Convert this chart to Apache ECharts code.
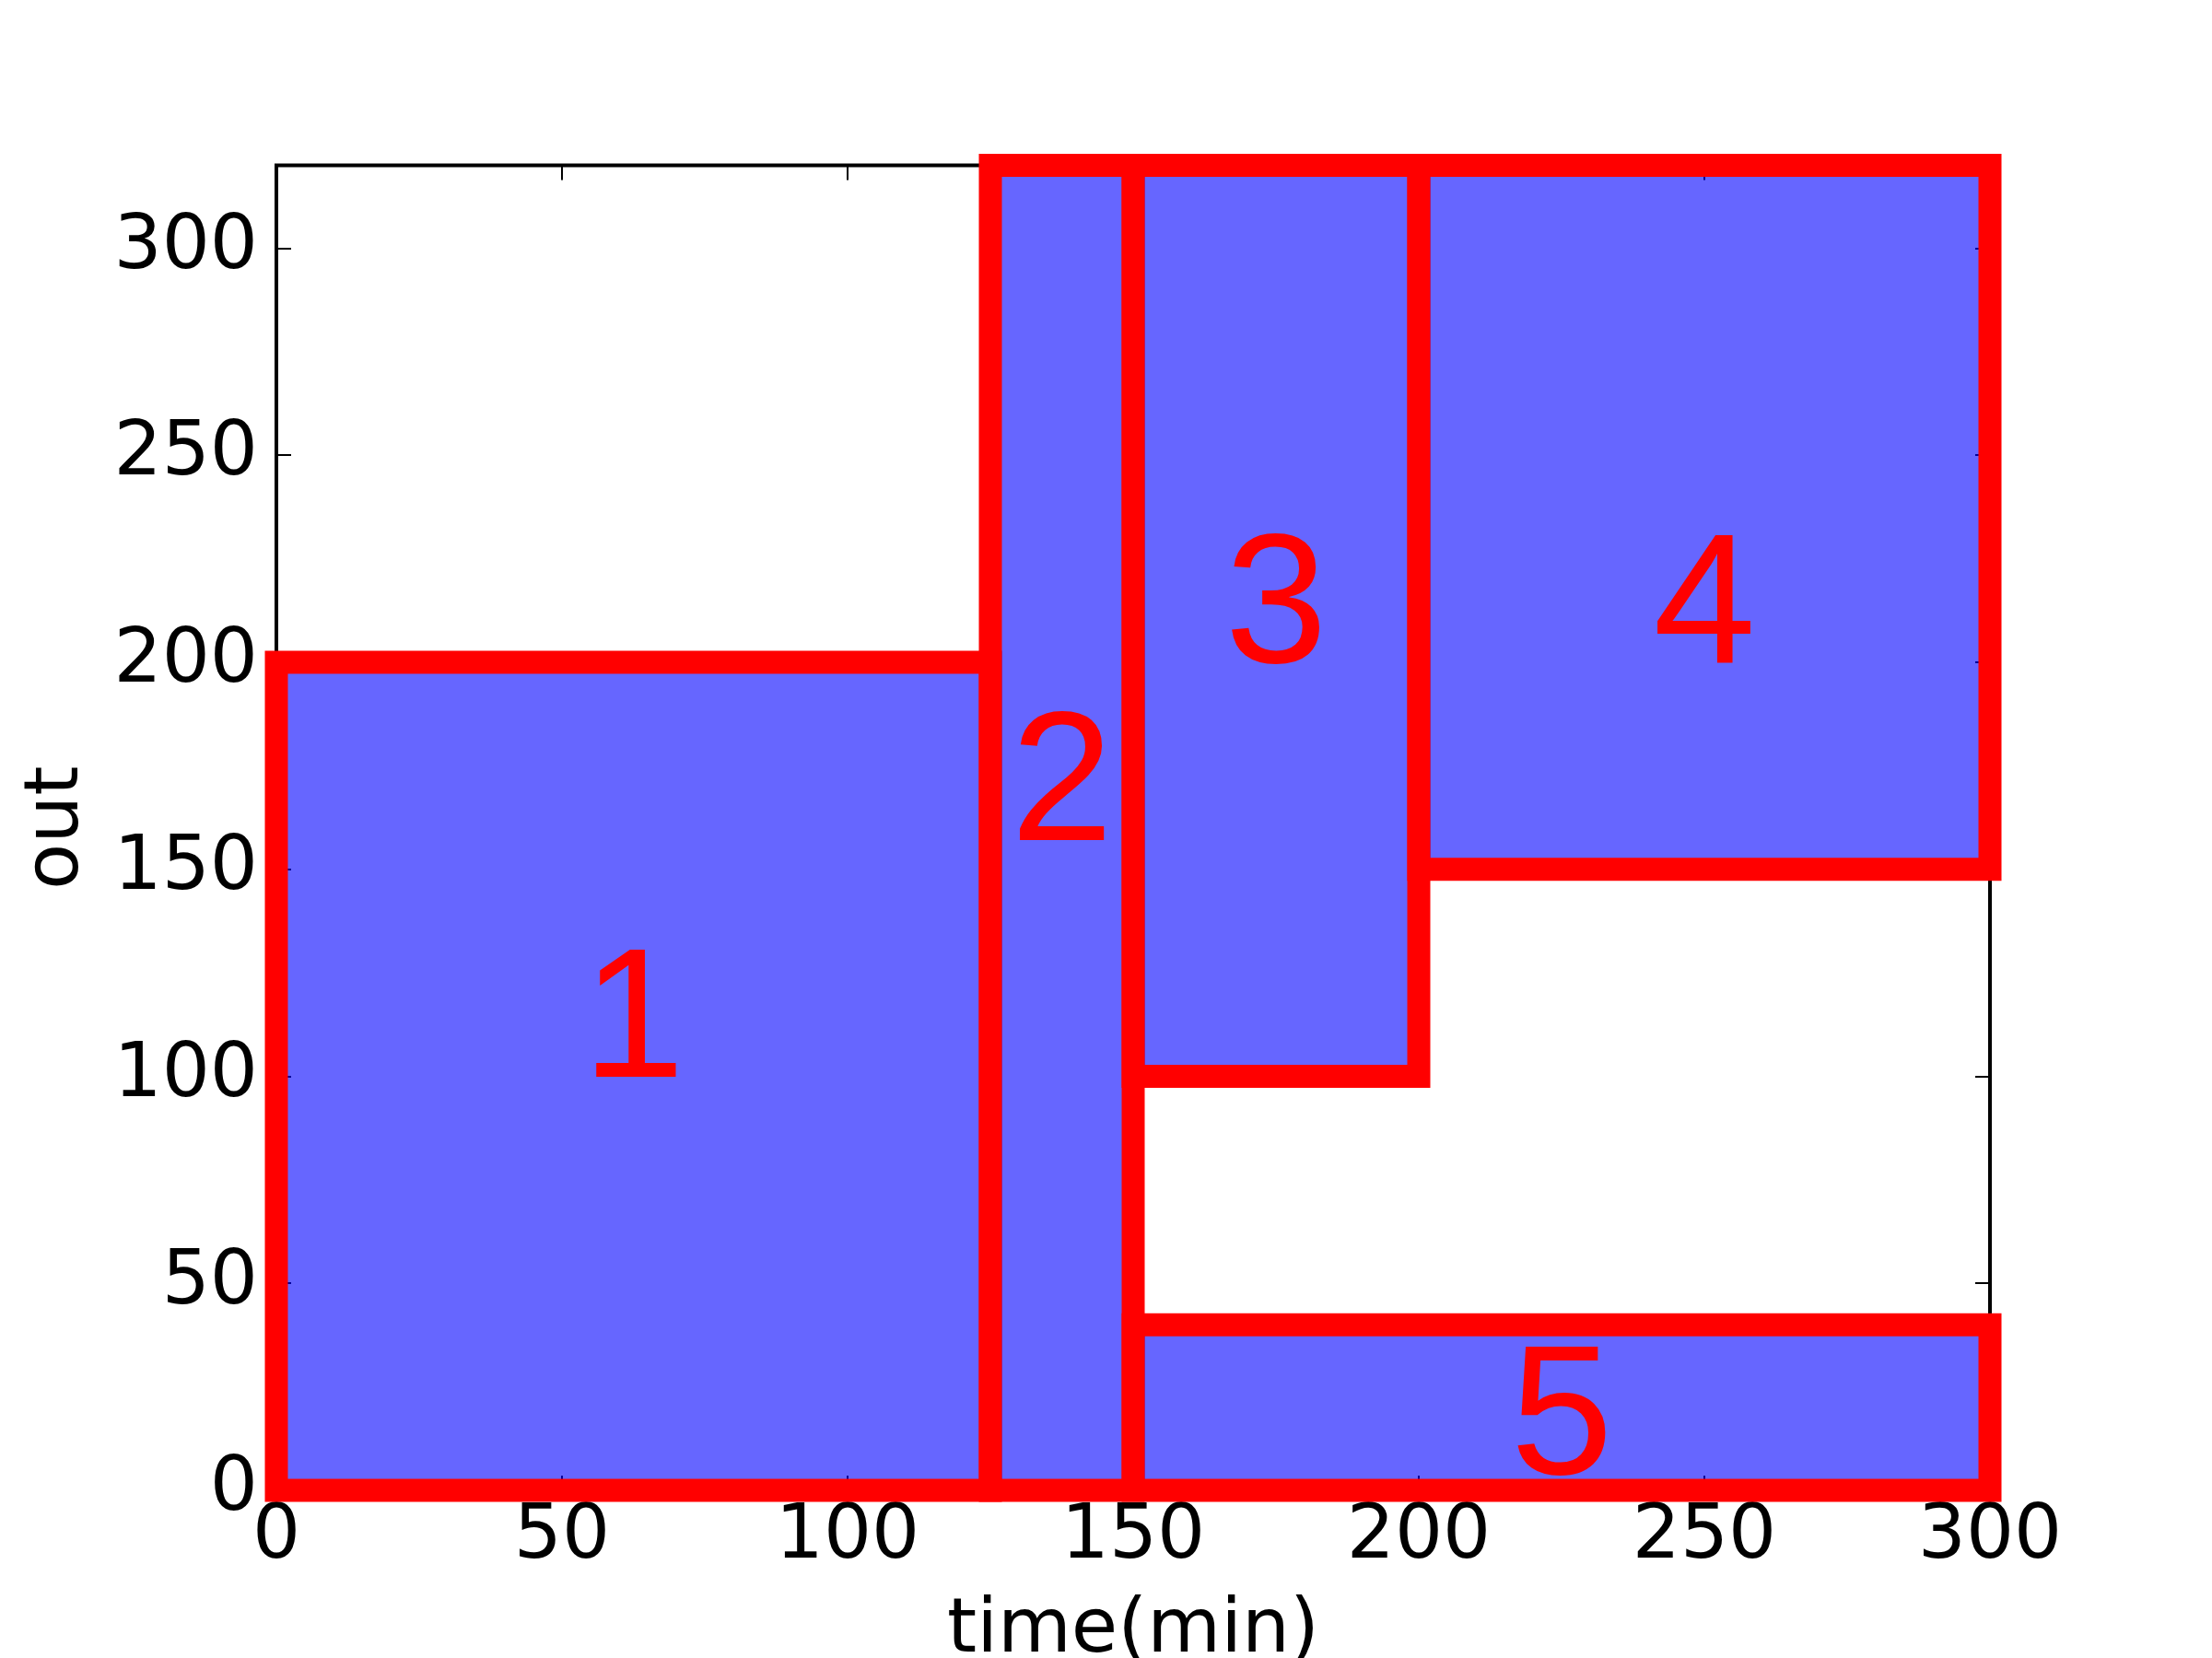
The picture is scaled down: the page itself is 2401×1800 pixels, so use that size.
<!DOCTYPE html>
<html>
<head>
<meta charset="utf-8">
<script src="https://cdn.jsdelivr.net/npm/echarts@6/dist/echarts.min.js"></script>
<style>
  html, body { margin: 0; padding: 0; background: #fff; }
  #chart { width: 2401px; height: 1800px; }
</style>
</head>
<body>
<div id="chart"></div>
<script>
// rectangles: [x0, x1] in minutes, [y0, y1] in "out"
const rectX0 = [0, 125, 150, 200, 150]
const rectX1 = [125, 150, 200, 300, 300]
const rectY0 = [0, 0, 100, 150, 0]
const rectY1 = [200, 320, 320, 320, 40]
const labelText = ['1', '2', '3', '4', '5']
// label anchor (baseline) positions
const labelX = [62.5, 137.5, 175, 250, 225]
const labelY = [100, 157, 200, 200, 4]

const xTicks = [0, 50, 100, 150, 200, 250, 300]
const yTicks = [0, 50, 100, 150, 200, 250, 300]

const data = rectX0.map((x0, i) => [x0, rectY0[i], rectX1[i], rectY1[i], labelX[i], labelY[i], labelText[i]])

const chart = echarts.init(document.getElementById('chart'), null, { renderer: 'canvas' })

const tickFont = { color: '#000', fontFamily: 'DejaVu Sans', fontSize: 82, lineHeight: 82 }
const tickStyle = { show: true, inside: true, length: 16, lineStyle: { color: '#000', width: 2 } }

const baseX = {
  type: 'value', min: 0, max: 300, interval: 50,
  axisLine: { show: false, onZero: false },
  splitLine: { show: false },
  axisTick: tickStyle,
}
const baseY = {
  type: 'value', min: 0, max: 320, interval: 50,
  axisLine: { show: false, onZero: false },
  splitLine: { show: false },
  axisTick: tickStyle,
}

const option = {
  animation: false,
  backgroundColor: '#fff',
  grid: {
    left: 300, right: 241, top: 179.5, bottom: 182,
    outerBoundsMode: 'none',
    containLabel: false,
    show: true, borderColor: '#000', borderWidth: 4, backgroundColor: 'transparent',
  },
  xAxis: [
    {
      ...baseX, position: 'bottom',
      name: 'time(min)', nameLocation: 'middle', nameGap: 113,
      nameTextStyle: tickFont,
      axisLabel: { ...tickFont, margin: 11, formatter: v => xTicks.includes(v) ? String(v) : '' },
    },
    { ...baseX, position: 'top', axisLabel: { show: false } },
  ],
  yAxis: [
    {
      ...baseY, position: 'left',
      name: 'out', nameLocation: 'middle', nameGap: 196,
      nameTextStyle: tickFont,
      axisLabel: { ...tickFont, margin: 20, formatter: v => yTicks.includes(v) ? String(v) : '' },
    },
    { ...baseY, position: 'right', axisLabel: { show: false } },
  ],
  series: [{
    type: 'custom',
    xAxisIndex: 0,
    yAxisIndex: 0,
    clip: false,
    z: 5,
    data,
    renderItem: (params, api) => {
      const p0 = api.coord([api.value(0), api.value(1)])
      const p1 = api.coord([api.value(2), api.value(3)])
      const lp = api.coord([api.value(4), api.value(5)])
      return {
        type: 'group',
        children: [
          {
            type: 'rect',
            shape: { x: p0[0], y: p1[1], width: p1[0] - p0[0], height: p0[1] - p1[1] },
            style: { fill: 'rgba(0,0,255,0.6)', stroke: '#ff0000', lineWidth: 25, lineJoin: 'miter' },
          },
          {
            type: 'text',
            x: lp[0],
            y: lp[1] - 55,
            style: {
              text: labelText[params.dataIndex],
              fill: '#ff0000',
              fontFamily: 'Liberation Sans',
              fontSize: 200,
              align: 'center',
              verticalAlign: 'middle',
            },
          },
        ],
      }
    },
  }],
}

chart.setOption(option)
</script>
</body>
</html>
